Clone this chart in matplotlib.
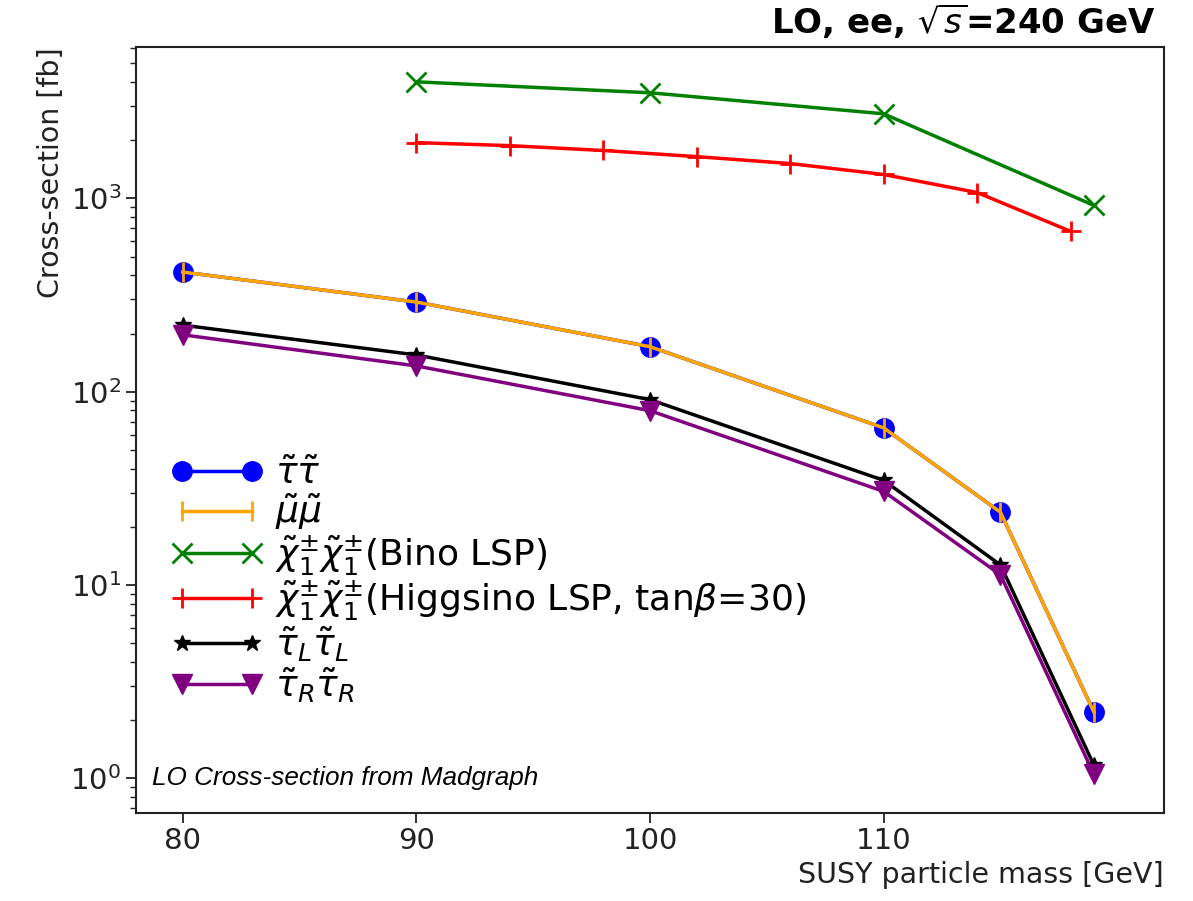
import matplotlib
matplotlib.use("Agg")
import matplotlib.pyplot as plt

# masses [GeV]
m_slep = [80, 90, 100, 110, 115, 119]
m_bino = [90, 100, 110, 119]
m_higgsino = [90, 94, 98, 102, 106, 110, 114, 118]

# cross-sections [fb]
xs_stau = [416, 291, 171, 65, 23.8, 2.2]
xs_smu = [416, 291, 171, 65, 23.8, 2.2]
xs_bino = [4010, 3520, 2740, 920]
xs_higgsino = [1944, 1875, 1770, 1645, 1515, 1330, 1073, 676]
xs_stauL = [221, 155, 91, 34.8, 12.7, 1.17]
xs_stauR = [197, 136, 79.8, 30.5, 11.3, 1.05]

labels = [r"$\tilde{\tau}\tilde{\tau}$",
          r"$\tilde{\mu}\tilde{\mu}$",
          r"$\tilde{\chi}_1^{\pm}\tilde{\chi}_1^{\pm}$(Bino LSP)",
          r"$\tilde{\chi}_1^{\pm}\tilde{\chi}_1^{\pm}$(Higgsino LSP, tan$\beta$=30)",
          r"$\tilde{\tau}_L\tilde{\tau}_L$",
          r"$\tilde{\tau}_R\tilde{\tau}_R$"]

fig = plt.figure(figsize=(11.93, 9.01), dpi=100)
ax = fig.add_axes([0.114, 0.098, 0.8617, 0.8498])

lw = 2.5
ax.plot(m_slep, xs_stau, color="blue", marker="o", markersize=14, lw=lw, label=labels[0])
ax.plot(m_slep, xs_smu, color="orange", marker="|", markersize=14, mew=2, lw=lw, label=labels[1])
ax.plot(m_bino, xs_bino, color="green", marker="x", markersize=14, mew=2, lw=lw, label=labels[2])
ax.plot(m_higgsino, xs_higgsino, color="red", marker="+", markersize=14, mew=2, lw=lw, label=labels[3])
ax.plot(m_slep, xs_stauL, color="black", marker="*", markersize=12, lw=lw, label=labels[4])
ax.plot(m_slep, xs_stauR, color="purple", marker="v", markersize=14, lw=lw, label=labels[5])

ax.set_yscale("log")
ax.set_xlim(78, 122)
ax.set_ylim(0.664, 6070)
ax.set_xticks([80, 90, 100, 110])
ax.tick_params(axis="both", which="major", labelsize=21, length=7, width=1.3, colors="#222222")
ax.tick_params(axis="y", which="minor", length=4, width=1.0, colors="#222222")
for s in ax.spines.values():
    s.set_linewidth(1.5)
    s.set_color("#222222")

ax.set_xlabel("SUSY particle mass [GeV]", fontsize=20.5, loc="right", color="#222222")
ax.set_ylabel("Cross-section [fb]", fontsize=20.5, loc="top", color="#222222")

ax.text(0.992, 1.008, r"LO, ee, $\sqrt{s}$=240 GeV", transform=ax.transAxes,
        ha="right", va="bottom", fontsize=24.5, fontweight="bold")
ax.text(0.016, 0.03, "LO Cross-section from Madgraph", transform=ax.transAxes,
        ha="left", va="bottom", fontsize=18.8, style="italic", family="Liberation Sans")

ax.legend(loc="upper left", bbox_to_anchor=(0.034, 0.465), frameon=False, fontsize=26,
          numpoints=2, handlelength=2.54, labelspacing=0.03, handletextpad=0.35,
          borderaxespad=0.0, borderpad=0.0)

fig.savefig("out.png", dpi=100)
